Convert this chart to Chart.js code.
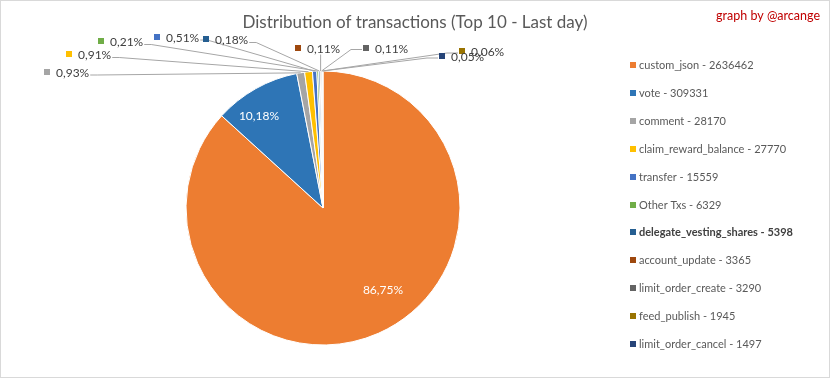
<!DOCTYPE html>
<html><head><meta charset="utf-8">
<script src="https://cdn.jsdelivr.net/npm/chart.js@4/dist/chart.umd.min.js"></script>
<style>html,body{margin:0;padding:0;background:#fff;overflow:hidden}
canvas{display:block}</style></head>
<body><canvas id="c" width="832" height="379"></canvas>
<script>
const categories = ['custom_json','vote','comment','claim_reward_balance','transfer','Other Txs','delegate_vesting_shares','account_update','limit_order_create','feed_publish','limit_order_cancel'];
const txCounts = [2636462,309331,28170,27770,15559,6329,5398,3365,3290,1945,1497];
const sliceColors = ['#ED7D31','#2E75B6','#A5A5A5','#FFC000','#4472C4','#70AD47','#255E91','#9E480E','#636363','#997300','#264478'];
const titleText = 'Distribution of transactions (Top 10 - Last day)';
const creditText = 'graph by @arcange';
const boldLegendIndex = 6;

// label layout (positions only): [sliceIndex, squareX, centerY, connectSide]
const outsideLabelLayout = [
  [2, 44, 72.5, 'right'],
  [3, 66, 55, 'right'],
  [4, 154, 37.5, 'right'],
  [5, 98, 42, 'right'],
  [6, 203, 40, 'right'],
  [7, 295, 48.5, 'bottom'],
  [8, 363, 48.5, 'left'],
  [9, 459, 52, 'left'],
  [10, 439, 57, 'left']
];
// inside labels: [sliceIndex, dx, dy] relative to pie centre
const insideLabelLayout = [[0, 60, 82], [1, -64, -92]];

const FONT = 'Lato, "Open Sans", sans-serif';
const total = txCounts.reduce((a, b) => a + b, 0);
const pct = v => (v / total * 100).toFixed(2).replace('.', ',') + '%';

const decor = {
  id: 'decor',
  afterDraw(chart) {
    const ctx = chart.ctx;
    const arcs = chart.getDatasetMeta(0).data;
    ctx.save();
    // border
    ctx.strokeStyle = '#d9d9d9';
    ctx.lineWidth = 1;
    ctx.strokeRect(0.5, 0.5, 829, 377);
    // title
    ctx.fillStyle = '#595959';
    ctx.font = '17px ' + FONT;
    ctx.textAlign = 'center';
    ctx.textBaseline = 'middle';
    ctx.fillText(titleText, 415, 22.5);
    // credit
    ctx.fillStyle = '#C00000';
    ctx.font = '12.5px ' + FONT;
    ctx.textAlign = 'right';
    ctx.fillText(creditText, 820, 16);
    // legend
    ctx.textAlign = 'left';
    categories.forEach((c, i) => {
      const y = 65 + i * 27.9;
      ctx.fillStyle = sliceColors[i];
      ctx.fillRect(630, Math.round(y - 3), 6, 6);
      ctx.fillStyle = i === boldLegendIndex ? '#404040' : '#595959';
      ctx.font = (i === boldLegendIndex ? 'bold ' : '') + '11px ' + FONT;
      ctx.fillText(c + ' - ' + txCounts[i], 639, y + 0.5);
    });
    // inside labels
    const cx = arcs[0].x, cy = arcs[0].y;
    ctx.fillStyle = '#ffffff';
    ctx.font = '12px ' + FONT;
    ctx.textAlign = 'center';
    insideLabelLayout.forEach(([i, dx, dy]) => {
      ctx.fillText(pct(txCounts[i]), cx + dx, cy + dy);
    });
    // outside labels with leader lines
    ctx.font = '12px ' + FONT;
    ctx.textAlign = 'left';
    outsideLabelLayout.forEach(([i, sx, ly, side]) => {
      const a = arcs[i];
      const mid = (a.startAngle + a.endAngle) / 2;
      const ax = a.x + Math.cos(mid) * a.outerRadius;
      const ay = a.y + Math.sin(mid) * a.outerRadius;
      const txt = pct(txCounts[i]);
      const tx = sx + 12;
      const tw = ctx.measureText(txt).width;
      ctx.strokeStyle = '#A6A6A6';
      ctx.lineWidth = 1;
      ctx.beginPath();
      if (side === 'right') {
        ctx.moveTo(tx + tw + 1, ly + 2.5);
        ctx.lineTo(tx + tw + 8, ly + 2.5);
      } else if (side === 'left') {
        ctx.moveTo(sx - 1, ly + 1);
        ctx.lineTo(sx - 12, ly + 1);
      } else {
        ctx.moveTo(ax, ly + 6);
      }
      ctx.lineTo(ax, ay);
      ctx.stroke();
    });
    outsideLabelLayout.forEach(([i, sx, ly]) => {
      ctx.fillStyle = sliceColors[i];
      ctx.fillRect(sx, Math.round(ly - 4), 6, 6);
      ctx.fillStyle = '#404040';
      ctx.fillText(pct(txCounts[i]), sx + 12, ly + 0.5);
    });
    ctx.restore();
  }
};

new Chart(document.getElementById('c'), {
  type: 'pie',
  data: {
    labels: categories,
    datasets: [{ data: txCounts, backgroundColor: sliceColors, borderColor: '#ffffff', borderWidth: 1 }]
  },
  options: {
    responsive: false,
    animation: false,
    devicePixelRatio: 1,
    layout: { padding: { left: 185.5, right: 371.5, top: 70.5, bottom: 33.5 } },
    plugins: { legend: { display: false }, title: { display: false }, tooltip: { enabled: false } }
  },
  plugins: [decor]
});
</script>
</body></html>
